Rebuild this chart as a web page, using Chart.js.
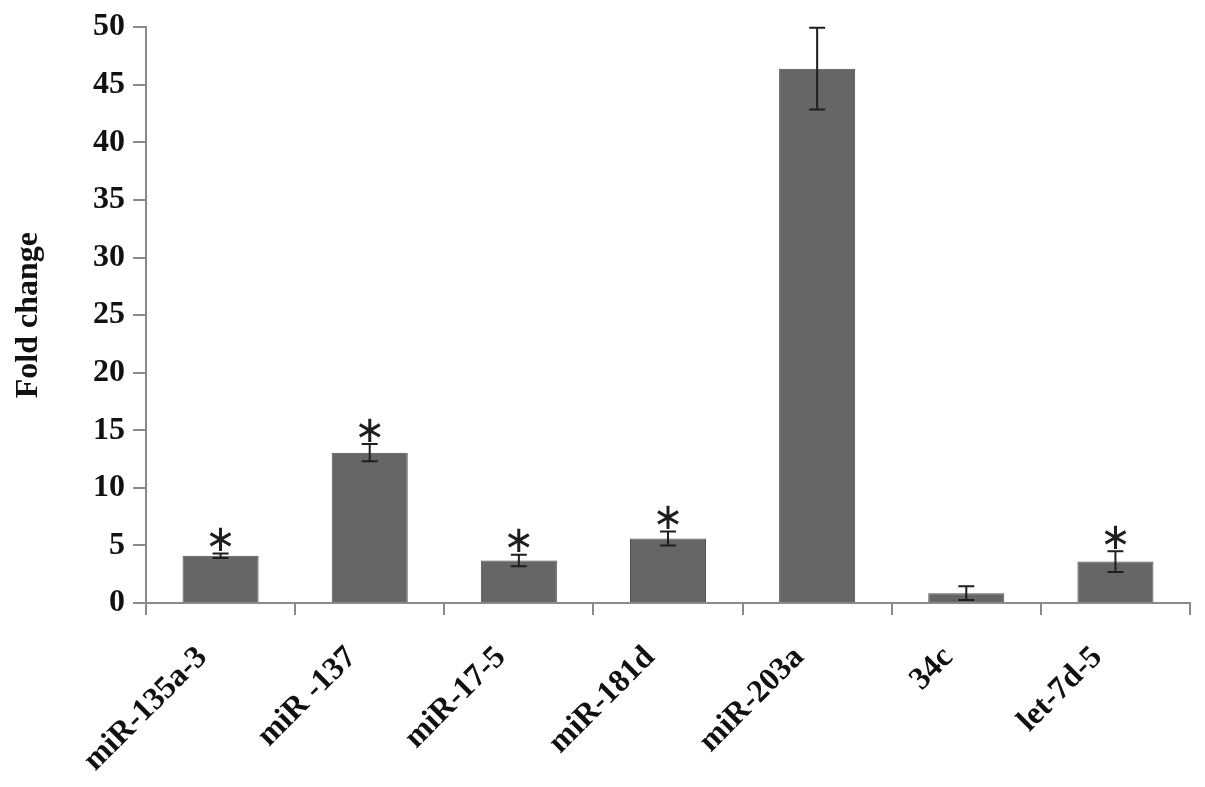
<!DOCTYPE html>
<html>
<head>
<meta charset="utf-8">
<script src="https://cdn.jsdelivr.net/npm/chart.js@4/dist/chart.umd.min.js"></script>
<style>
  html, body { margin: 0; padding: 0; background: #ffffff; }
  #wrap { width: 1205px; height: 787px; }
</style>
</head>
<body>
<div id="wrap"><canvas id="c" width="1205" height="787"></canvas></div>
<script>
const categories = ['miR-135a-3', 'miR -137', 'miR-17-5', 'miR-181d', 'miR-203a', '34c', 'let-7d-5'];
const foldChange = [4.1, 13.05, 3.7, 5.6, 46.4, 0.85, 3.6];
const errorSize = [0.2, 0.75, 0.5, 0.6, 3.55, 0.6, 0.9];
const significant = [true, true, true, true, false, false, true];
const yTicks = [0, 5, 10, 15, 20, 25, 30, 35, 40, 45, 50];

const errorBarPlugin = {
  id: 'errorBars',
  afterDatasetsDraw(chart) {
    const ctx = chart.ctx;
    const meta = chart.getDatasetMeta(0);
    const y = chart.scales.y;
    ctx.save();
    meta.data.forEach((bar, i) => {
      const v = foldChange[i], e = errorSize[i];
      const yTop = y.getPixelForValue(v + e);
      const yBot = y.getPixelForValue(v - e);
      const x = bar.x;
      ctx.strokeStyle = '#1e1e1e';
      ctx.lineWidth = 2;
      ctx.beginPath();
      ctx.moveTo(x, yTop); ctx.lineTo(x, yBot);
      ctx.moveTo(x - 8, yTop); ctx.lineTo(x + 8, yTop);
      ctx.moveTo(x - 8, yBot); ctx.lineTo(x + 8, yBot);
      ctx.stroke();
      if (significant[i]) {
        ctx.fillStyle = '#1e1e1e';
        ctx.font = '37px "DejaVu Sans"';
        ctx.textAlign = 'center';
        ctx.textBaseline = 'middle';
        ctx.fillText('\u2217', x, yTop - 12);
      }
    });
    ctx.restore();
  }
};

new Chart(document.getElementById('c'), {
  type: 'bar',
  data: {
    labels: categories,
    datasets: [{
      data: foldChange,
      backgroundColor: '#666666',
      borderColor: '#4d4d4d',
      borderWidth: 1,
      barPercentage: 0.51,
      categoryPercentage: 1.0
    }]
  },
  plugins: [errorBarPlugin],
  options: {
    responsive: false,
    animation: false,
    events: [],
    layout: { padding: { left: 0, right: 15, top: 26, bottom: 0 } },
    plugins: { legend: { display: false }, tooltip: { enabled: false } },
    scales: {
      x: {
        offset: true,
        grid: { display: true, offset: true, drawOnChartArea: false, drawTicks: true, tickLength: 12, color: '#8a8a8a', lineWidth: 2 },
        border: { display: true, color: '#8a8a8a', width: 2 },
        ticks: {
          color: '#111111',
          font: { family: '"Liberation Serif"', size: 32, weight: 'bold' },
          maxRotation: 45, minRotation: 45, padding: 24, labelOffset: -18, autoSkip: false
        },
        afterFit(scale) { scale.height = 184; }
      },
      y: {
        min: 0, max: 50,
        afterBuildTicks(scale) { scale.ticks = yTicks.map(v => ({ value: v })); },
        grid: { display: true, drawOnChartArea: false, drawTicks: true, tickLength: 13, color: '#8a8a8a', lineWidth: 2 },
        border: { display: true, color: '#8a8a8a', width: 2 },
        ticks: {
          color: '#111111',
          font: { family: '"Liberation Serif"', size: 32, weight: 'bold' },
          padding: 8
        },
        title: {
          display: true, text: 'Fold change', color: '#111111',
          font: { family: '"Liberation Serif"', size: 32, weight: 'bold' },
          padding: { top: 10, bottom: 0 }
        },
        afterFit(scale) { scale.width = 146; }
      }
    }
  }
});
</script>
</body>
</html>
